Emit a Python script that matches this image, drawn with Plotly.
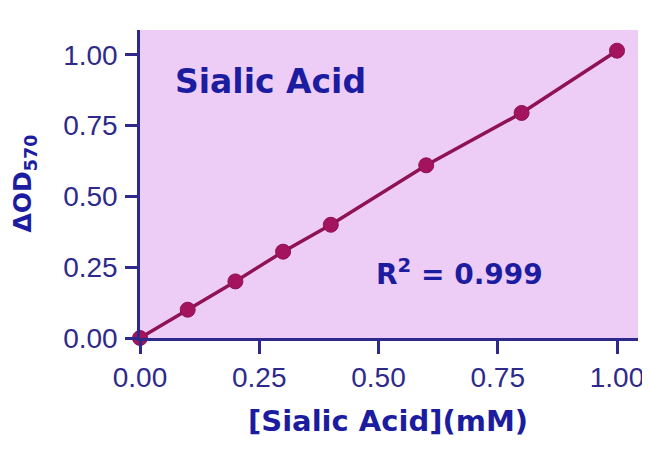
import plotly.graph_objects as go

conc = [0.0, 0.1, 0.2, 0.3, 0.4, 0.6, 0.8, 1.0]
od = [0.0, 0.10, 0.20, 0.305, 0.40, 0.61, 0.795, 1.015]
ticks = [0.0, 0.25, 0.5, 0.75, 1.0]
tick_text = ["0.00", "0.25", "0.50", "0.75", "1.00"]

axis_col = "#2E2A8C"
title_col = "#1C1CA0"
font_fam = "Liberation Sans, Arial, sans-serif"
bold_fam = "DejaVu Sans, Liberation Sans, sans-serif"

fig = go.Figure()
fig.add_trace(go.Scatter(
    x=conc, y=od, mode="lines+markers",
    line=dict(color="#8E1254", width=3.5),
    marker=dict(color="#A3135E", size=15, line=dict(color="#8E1254", width=1)),
    cliponaxis=False, showlegend=False,
))

fig.update_layout(
    width=642, height=456,
    margin=dict(l=132, r=12, t=22, b=126, autoexpand=False),
    paper_bgcolor="white", plot_bgcolor="#EDCDF5",
    font=dict(family=font_fam, color=axis_col),
    xaxis=dict(
        range=[0, 1.044], tickvals=ticks, ticktext=tick_text, automargin=False,
        showgrid=False, zeroline=False, showline=True, linecolor=axis_col, linewidth=2.5,
        ticks="outside", ticklen=13, tickwidth=2.5, tickcolor=axis_col,
        tickfont=dict(size=28, color=axis_col),
    ),
    yaxis=dict(
        range=[0, 1.088], tickvals=ticks, ticktext=tick_text, automargin=False,
        showgrid=False, zeroline=False, showline=True, linecolor=axis_col, linewidth=2.5,
        ticks="outside", ticklen=12, tickwidth=2.5, tickcolor=axis_col,
        tickfont=dict(size=28, color=axis_col), ticklabelstandoff=2,
    ),
    annotations=[
        dict(x=0.07, y=0.905, xref="x", yref="y", text="<b>Sialic Acid</b>", showarrow=False,
             xanchor="left", yanchor="middle", font=dict(size=33, color=title_col, family=bold_fam)),
        dict(x=0.49, y=0.23, xref="x", yref="y", text="<b>R<sup>2</sup> = 0.999</b>", showarrow=False,
             xanchor="left", yanchor="middle", font=dict(size=28, color=title_col, family=bold_fam)),
        dict(x=0.498, y=-0.27, xref="paper", yref="paper", text="<b>[Sialic Acid](mM)</b>",
             showarrow=False, xanchor="center", yanchor="middle",
             font=dict(size=29, color=title_col, family=bold_fam)),
        dict(x=-0.232, y=0.503, xref="paper", yref="paper", text="<b>ΔOD<sub>570</sub></b>",
             showarrow=False, xanchor="center", yanchor="middle", textangle=-90,
             font=dict(size=25, color=title_col, family=bold_fam)),
    ],
)

fig.write_html("out.html")
